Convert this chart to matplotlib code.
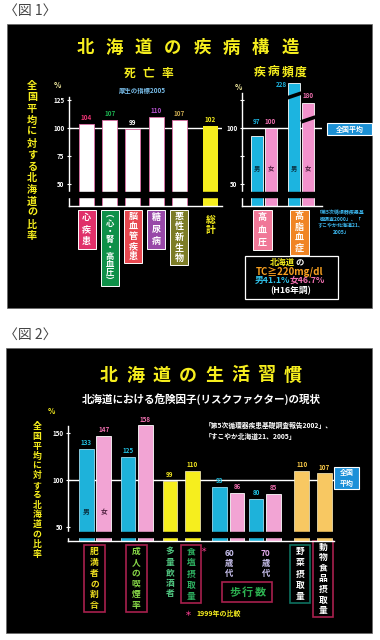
import numpy as np
import matplotlib
matplotlib.use('Agg')
import matplotlib.pyplot as plt
from matplotlib.patches import Rectangle

plt.rcParams['font.family'] = ['Noto Sans CJK JP', 'DejaVu Sans']
plt.rcParams['font.weight'] = 'bold'

W, H = 380, 640
YEL = '#f6ee1e'
CYAN = '#1cb4e0'
PINK = '#f292cc'
CRIM = '#a8204e'

# --- 図1 死亡率 (厚生の指標2005)
death_cats = ['心疾患', '︵心・腎・高血圧︶', '脳血管疾患', '糖尿病', '悪性新生物']
death_vals = [104, 107, 99, 110, 107]
death_total = 102
# --- 図1 疾病頻度
freq_cats = ['高血圧', '高脂血症']
freq_male = [97, 228]
freq_female = [100, 180]
freq_male_drawn = [93, 140]     # heights as drawn on the broken scale
freq_female_drawn = [100, 122]
# --- 図2 生活習慣
pair_cats = ['肥満者の割合', '成人の喫煙率', '60歳代', '70歳代']
pair_male = [133, 125, 93, 80]
pair_female = [147, 158, 86, 85]
single_cats = ['多量飲酒者', '食塩摂取量', '野菜摂取量', '動物食品摂取量']
single_vals = [99, 110, 110, 107]

fig = plt.figure(figsize=(3.8, 6.4), dpi=100)
fig.patch.set_facecolor('white')
bg = fig.add_axes([0, 0, 1, 1])
bg.set_xlim(0, W)
bg.set_ylim(H, 0)
bg.axis('off')


def px_axes(x0, y0, x1, y1):
    return fig.add_axes([x0 / W, 1 - y1 / H, (x1 - x0) / W, (y1 - y0) / H])


def box(x0, y0, x1, y1, fc='none', ec='white', lw=0.8):
    bg.add_patch(Rectangle((x0, y0), x1 - x0, y1 - y0, facecolor=fc, edgecolor=ec, lw=lw))


def htext(x0, x1, y, s, **kw):
    for c, x in zip(s, np.linspace(x0, x1, len(s))):
        bg.text(x, y, c, ha='center', va='center', **kw)


def vtext(x, y0, y1, s, **kw):
    n = len(s)
    for i, c in enumerate(s):
        bg.text(x, y0 + (i + 0.5) * (y1 - y0) / n, c, ha='center', va='center', **kw)


def style(ax, xlim, ylim, spine_top, ticks, labels, brk):
    ax.set_facecolor('none')
    ax.set_xlim(xlim)
    ax.set_ylim(ylim)
    for s in ['top', 'right']:
        ax.spines[s].set_visible(False)
    for s in ['left', 'bottom']:
        ax.spines[s].set_color('white')
        ax.spines[s].set_linewidth(1.0)
    ax.spines['left'].set_bounds(ylim[0], spine_top)
    ax.set_xticks([])
    ax.set_yticks(ticks, labels, fontsize=4.5, fontweight='bold')
    ax.tick_params(axis='y', direction='inout', length=3.5, width=0.8,
                   colors='white', pad=1.5)
    ax.axhline(100, color='white', lw=1, zorder=1)
    ax.axhspan(brk[0], brk[1], xmin=-0.03, xmax=1, color='black', zorder=3, clip_on=False)


def vlabel(ax, x, h, v, color, dy=2):
    ax.annotate(str(v), (x, h), xytext=(0, dy), textcoords='offset points',
                ha='center', va='bottom', color=color, fontsize=4.5, fontweight='bold')


# ---------------- panel frames & captions ----------------
box(7, 24, 372, 308, fc='black', ec='#666', lw=0.5)
box(6, 348, 372, 633, fc='black', ec='#666', lw=0.5)
bg.text(4, 11, '〈図 1〉', ha='left', va='center', fontsize=10, color='#444', fontweight='normal')
bg.text(4, 335, '〈図 2〉', ha='left', va='center', fontsize=10, color='#444', fontweight='normal')

# ---------------- 図1 ----------------
htext(85, 290, 48, '北海道の疾病構造', color=YEL, fontsize=12.5)
vtext(32, 80, 242, '全国平均に対する北海道の比率', color=YEL, fontsize=7.3)
htext(130, 167, 73.5, '死亡率', color=YEL, fontsize=8.5)
bg.text(142, 90, '厚生の指標2005', ha='center', va='center', color='#78bce8', fontsize=4.6)
htext(260, 301, 72, '疾病頻度', color=YEL, fontsize=8.5)
bg.text(57, 86, '%', ha='center', va='center', color='#f4eca0', fontsize=5.5)
bg.text(238, 88, '%', ha='center', va='center', color='#f4eca0', fontsize=5.5)

# death-rate chart
sc1 = 1.12
ylim1 = (100 - (205.5 - 128) / sc1, 100 + (128 - 80) / sc1)
ax1 = px_axes(69, 80, 222, 205.5)
style(ax1, (0, 153), ylim1, 127.5, [50, 75, 100, 125], ['50', '75', '100', '125'], (38.2, 43))
x1 = 17.5 + 23.2 * np.arange(len(death_vals))
xt = 141.3
ax1.bar(x1, death_vals, width=15, color='white', edgecolor='#e070a8', lw=0.6, zorder=2)
ax1.bar(xt, death_total, width=15, color=YEL, zorder=2)
death_txt_col = ['#ea3272', '#1cb050', 'white', '#b452cc', '#c8a850']
for x, v, c in zip(x1, death_vals, death_txt_col):
    vlabel(ax1, x, v, v, c)
vlabel(ax1, xt, death_total, death_total, YEL)

box_fc = ['#e0306a', '#0e9048', '#e84850', '#9848a8', '#7c7c26']
box_y1 = [249, 286, 263, 249, 265]
for x, cat, fc, yb in zip(x1, death_cats, box_fc, box_y1):
    cx = 69 + x
    box(cx - 9, 210, cx + 9, yb, fc=fc, ec='white', lw=0.7)
    vtext(cx, 211, yb - 1, cat, color='white', fontsize=6 if len(cat) > 5 else 6.5)
vtext(69 + xt, 214, 236, '総計', color=YEL, fontsize=7)

# disease frequency chart
ax2 = px_axes(242, 80, 322, 205.5)
style(ax2, (0, 80), ylim1, 131, [50, 75, 100, 125], ['50', '', '100', ''], (38.2, 43))
g2 = np.array([21.6, 58.9])
ax2.bar(g2 - 7, freq_male_drawn, width=12, color=CYAN, edgecolor='white', lw=0.6, zorder=2)
ax2.bar(g2 + 7, freq_female_drawn, width=12, color=PINK, edgecolor='white', lw=0.6, zorder=2)
# break marks on the clipped bars
for x, yb in [(g2[1] - 7, 129), (g2[1] + 7, 107.6)]:
    ax2.plot([x - 7, x + 7.5], [yb - 2.2, yb + 2.2], color='black', lw=2.6,
             solid_capstyle='butt', zorder=4)
top0 = max(freq_male_drawn[0], freq_female_drawn[0])
vlabel(ax2, g2[0] - 7, top0, freq_male[0], CYAN)
vlabel(ax2, g2[0] + 7, top0, freq_female[0], '#f070b0')
ax2.annotate(str(freq_male[1]), (g2[1] - 13, freq_male_drawn[1]), xytext=(-0.5, -1),
             textcoords='offset points', ha='right', va='center', color=CYAN,
             fontsize=4.5, fontweight='bold')
vlabel(ax2, g2[1] + 7, freq_female_drawn[1], freq_female[1], '#f070b0', dy=3)
for g in g2:
    ax2.text(g - 7, 64, '男', ha='center', va='center', color='#0a3040', fontsize=4.5, zorder=5)
    ax2.text(g + 7, 64, '女', ha='center', va='center', color='#502040', fontsize=4.5, zorder=5)

box(327, 123, 372, 134.5, fc='#1c90d4', ec='white', lw=0.8)
bg.text(349.5, 129, '全国平均', ha='center', va='center', color='white', fontsize=5)

fbox_fc = ['#f07898', '#f08424']
for g, cat, fc in zip(g2, freq_cats, fbox_fc):
    cx = 242 + g - 1.5
    box(cx - 9.5, 210, cx + 9.5, 250 if len(cat) == 3 else 255, fc=fc, ec='white', lw=0.7)
    vtext(cx, 211, 249 if len(cat) == 3 else 254, cat, color='white', fontsize=6.5)

for i, line in enumerate(['「第5次循環器疾患基', '礎調査2000」、「', 'すこやか北海道21、', '2005」']):
    bg.text(341, 213 + i * 6.5, line, ha='center', va='center', color='#3cb8f0', fontsize=3.6)

box(245, 256, 338, 299, fc='black', ec='white', lw=0.9)
bg.text(295, 262.5, '北海道', ha='right', va='center', color=YEL, fontsize=6)
bg.text(295, 262.5, 'の', ha='left', va='center', color='white', fontsize=6)
bg.text(290, 271.5, 'TC≧220mg/dl', ha='center', va='center', color='#f8a020', fontsize=7)
bg.text(290, 280.5, '男41.1%', ha='right', va='center', color='#30c0e8', fontsize=6.3)
bg.text(290, 280.5, '女46.7%', ha='left', va='center', color='#f070b0', fontsize=6.3)
bg.text(291, 291, '(H16年調)', ha='center', va='center', color='white', fontsize=6.3)

# ---------------- 図2 ----------------
htext(109, 293, 375, '北海道の生活習慣', color=YEL, fontsize=13)
bg.text(201, 399, '北海道における危険因子(リスクファクター)の現状', ha='center', va='center',
        color='white', fontsize=7.6)
bg.text(51, 412, '%', ha='center', va='center', color=YEL, fontsize=5.5)
vtext(37, 422, 559, '全国平均に対する北海道の比率', color=YEL, fontsize=6.4)
bg.text(205, 425, '「第5次循環器疾患基礎調査報告2002」、', ha='left', va='center',
        color='white', fontsize=4.9)
bg.text(205, 436, '「すこやか北海道21、2005」', ha='left', va='center',
        color='white', fontsize=4.9)

sc3 = 0.94
ylim3 = (100 - (541 - 480) / sc3, 100 + (480 - 405) / sc3)
ax3 = px_axes(68, 405, 334, 541)
style(ax3, (0, 266), ylim3, 157, [50, 100, 150], ['50', '100', '150'], (39.3, 44.7))
gp = np.array([27, 68.8, 160.3, 196.8])
xs = np.array([102, 124.5, 233.7, 256.3])
ax3.bar(gp - 8.7, pair_male, width=14.5, color='#1eb2da', edgecolor='#9cdcf0', lw=0.6, zorder=2)
ax3.bar(gp + 8.7, pair_female, width=14.5, color='#f2a4d4', edgecolor='white', lw=0.6, zorder=2)
single_fc = [YEL, YEL, '#f8c862', '#f8c862']
single_tc = ['#f0e420', '#f0e420', '#f8c848', '#f8c848']
ax3.bar(xs, single_vals, width=14.5, color=single_fc, edgecolor='#fff4c8', lw=0.5, zorder=2)
for x, m, f in zip(gp, pair_male, pair_female):
    vlabel(ax3, x - 8.7, m, m, '#22c2e4')
    vlabel(ax3, x + 8.7, f, f, '#f070b0')
for x, v, c in zip(xs, single_vals, single_tc):
    vlabel(ax3, x, v, v, c)
ax3.text(gp[0] - 8.7, 66, '男', ha='center', va='center', color='#0a3040', fontsize=4.8, zorder=5)
ax3.text(gp[0] + 8.7, 66, '女', ha='center', va='center', color='#502040', fontsize=4.8, zorder=5)

box(334, 467, 359, 489, fc='#1c90d8', ec='white', lw=0.8)
bg.text(346.5, 473, '全国', ha='center', va='center', color='white', fontsize=5)
bg.text(346.5, 483, '平均', ha='center', va='center', color='white', fontsize=5)

# category labels under the bars
pair_tc = ['#f0e020', '#88d848']
for g, cat, tc in zip(gp[:2], pair_cats[:2], pair_tc):
    cx = 68 + g - 0.5
    box(cx - 10.5, 545, cx + 10.5, 612, ec=CRIM, lw=1.2)
    vtext(cx, 546, 611, cat, color=tc, fontsize=6.3)
for g, cat, tc in zip(gp[2:], pair_cats[2:], ['#ccc4f2', '#e2aaec']):
    cx = 68 + g + 1
    bg.text(cx, 553, cat[:2], ha='center', va='center', color=tc, fontsize=6)
    bg.text(cx, 563.5, cat[2], ha='center', va='center', color='#ccc4f2', fontsize=6)
    bg.text(cx, 573.5, cat[3], ha='center', va='center', color='#ccc4f2', fontsize=6)
box(222, 582, 272, 602, ec=CRIM, lw=1.2)
htext(235, 260, 592, '歩行数', color='#2cb050', fontsize=8)

sbox = [None, (545, 603, CRIM), (545, 603, '#0e7060'), (541, 617, CRIM)]
stc = ['#52c882', '#2eb060', 'white', 'white']
for x, cat, b, tc in zip(xs, single_cats, sbox, stc):
    cx = 68 + x - 1.5
    if b is None:
        vtext(cx + 1.5, 547, 599, cat, color=tc, fontsize=6.3)
    else:
        box(cx - 10, b[0], cx + 10, b[1], ec=b[2], lw=1.2)
        vtext(cx, b[0] + 1, b[1] - 1, cat, color=tc, fontsize=6.3)
bg.text(203, 549, '＊', ha='center', va='center', color='#f03c8c', fontsize=4.5)
bg.text(188, 613, '＊', ha='center', va='center', color='#f03c8c', fontsize=5)
bg.text(196, 613, '1999年の比較', ha='left', va='center', color=YEL, fontsize=5)

fig.savefig('out.png', dpi=100, facecolor='white')
